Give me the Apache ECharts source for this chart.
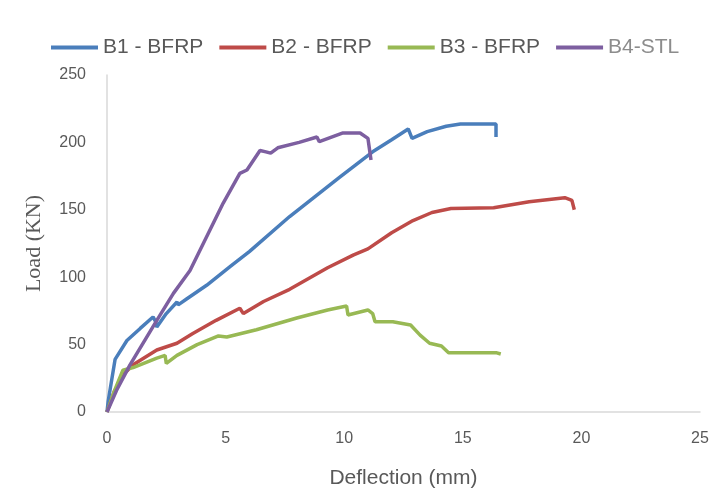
<!DOCTYPE html>
<html>
<head>
<meta charset="utf-8">
<script src="https://cdn.jsdelivr.net/npm/echarts@6/dist/echarts.min.js"></script>
<style>html,body{margin:0;padding:0;background:#fff}#c{width:722px;height:497px}</style>
</head>
<body>
<div id="c"></div>
<script>
const seriesNames = ['B1 - BFRP', 'B2 - BFRP', 'B3 - BFRP', 'B4-STL'];
const xTicks = [0, 5, 10, 15, 20, 25];
const yTicks = [0, 50, 100, 150, 200, 250];

const b1 = [[0,0],[0.05,8],[0.34,39],[0.84,53],[1.4,62],[1.94,70.5],[2.05,67],[2.1,63],[2.5,73],[2.95,81.6],[3.0,79.5],[3.37,84],[4.2,94],[5.2,108],[6.0,119],[7.7,145],[9.8,174],[11.2,193],[12.0,202],[12.7,210],[12.86,203],[13.5,208],[14.3,212],[14.9,213.6],[16.4,213.6],[16.4,204]];
const b2 = [[0,0],[0.3,15],[0.7,28],[1.1,35],[2.1,46],[2.95,51],[3.6,58],[4.6,68],[5.6,77],[5.75,73],[6.6,82],[7.7,91],[9.3,107],[10.4,116.6],[11.0,121],[12.0,133],[12.9,142],[13.7,148],[14.5,151],[16.3,151.5],[17.8,156],[19.3,159],[19.6,157],[19.7,150]];
const b3 = [[0,0],[0.3,15],[0.67,31],[1.1,33],[2.1,40],[2.45,42],[2.5,36],[2.95,42],[3.8,50],[4.7,56.4],[5.05,55.6],[6.3,61],[8.0,69.7],[9.3,75.7],[10.1,78.6],[10.16,72],[11.0,75.7],[11.2,73],[11.3,67],[12.05,67],[12.8,64.5],[13.2,57],[13.6,51],[14.1,49],[14.4,44],[16.4,44],[16.6,43]];
const b4 = [[0,0],[0.4,16],[0.97,35],[2.1,68],[2.8,88],[3.5,105],[4.9,155],[5.6,177],[5.9,179.5],[6.45,194],[6.7,193],[6.9,192],[7.2,196],[8.1,200],[8.85,204],[8.95,200.5],[9.95,207],[10.67,207],[11.0,203],[11.13,187]];

const colors = ['#4A7EBB', '#BE4B48', '#98B954', '#7D5FA0'];
const dataSets = [b1, b2, b3, b4];

const chart = echarts.init(document.getElementById('c'));
chart.setOption({
  animation: false,
  color: colors,
  grid: { left: 107, right: 22, top: 75, bottom: 85 },
  legend: {
    left: 46, top: 32,
    icon: 'rect', itemWidth: 47, itemHeight: 4, itemGap: 16,
    textStyle: { fontFamily: 'Liberation Sans', fontSize: 21, color: '#595959' },
    data: seriesNames.map((n, i) => ({ name: n, textStyle: i === 3 ? { color: '#8c8c8c' } : {} }))
  },
  xAxis: {
    type: 'value', min: 0, max: 25, interval: 5,
    name: 'Deflection (mm)', nameLocation: 'middle', nameGap: 56,
    nameTextStyle: { fontFamily: 'Liberation Sans', fontSize: 21, color: '#595959' },
    axisLine: { show: true, lineStyle: { color: '#d9d9d9', width: 1.5 } },
    axisTick: { show: false },
    splitLine: { show: false },
    axisLabel: { margin: 19, fontFamily: 'Liberation Sans', fontSize: 16, color: '#595959' }
  },
  yAxis: {
    type: 'value', min: 0, max: 250, interval: 50,
    name: 'Load (KN)', nameLocation: 'middle', nameGap: 62,
    nameTextStyle: { fontFamily: 'Liberation Serif', fontSize: 22, color: '#595959' },
    axisLine: { show: true, lineStyle: { color: '#d9d9d9', width: 1.5 } },
    axisTick: { show: false },
    splitLine: { show: false },
    axisLabel: { margin: 21, fontFamily: 'Liberation Sans', fontSize: 16, color: '#595959' }
  },
  series: dataSets.map((d, i) => ({
    name: seriesNames[i], type: 'line', data: d,
    showSymbol: false, symbol: 'none',
    lineStyle: { width: 3.5, color: colors[i] },
    itemStyle: { color: colors[i] }
  }))
});
</script>
</body>
</html>
